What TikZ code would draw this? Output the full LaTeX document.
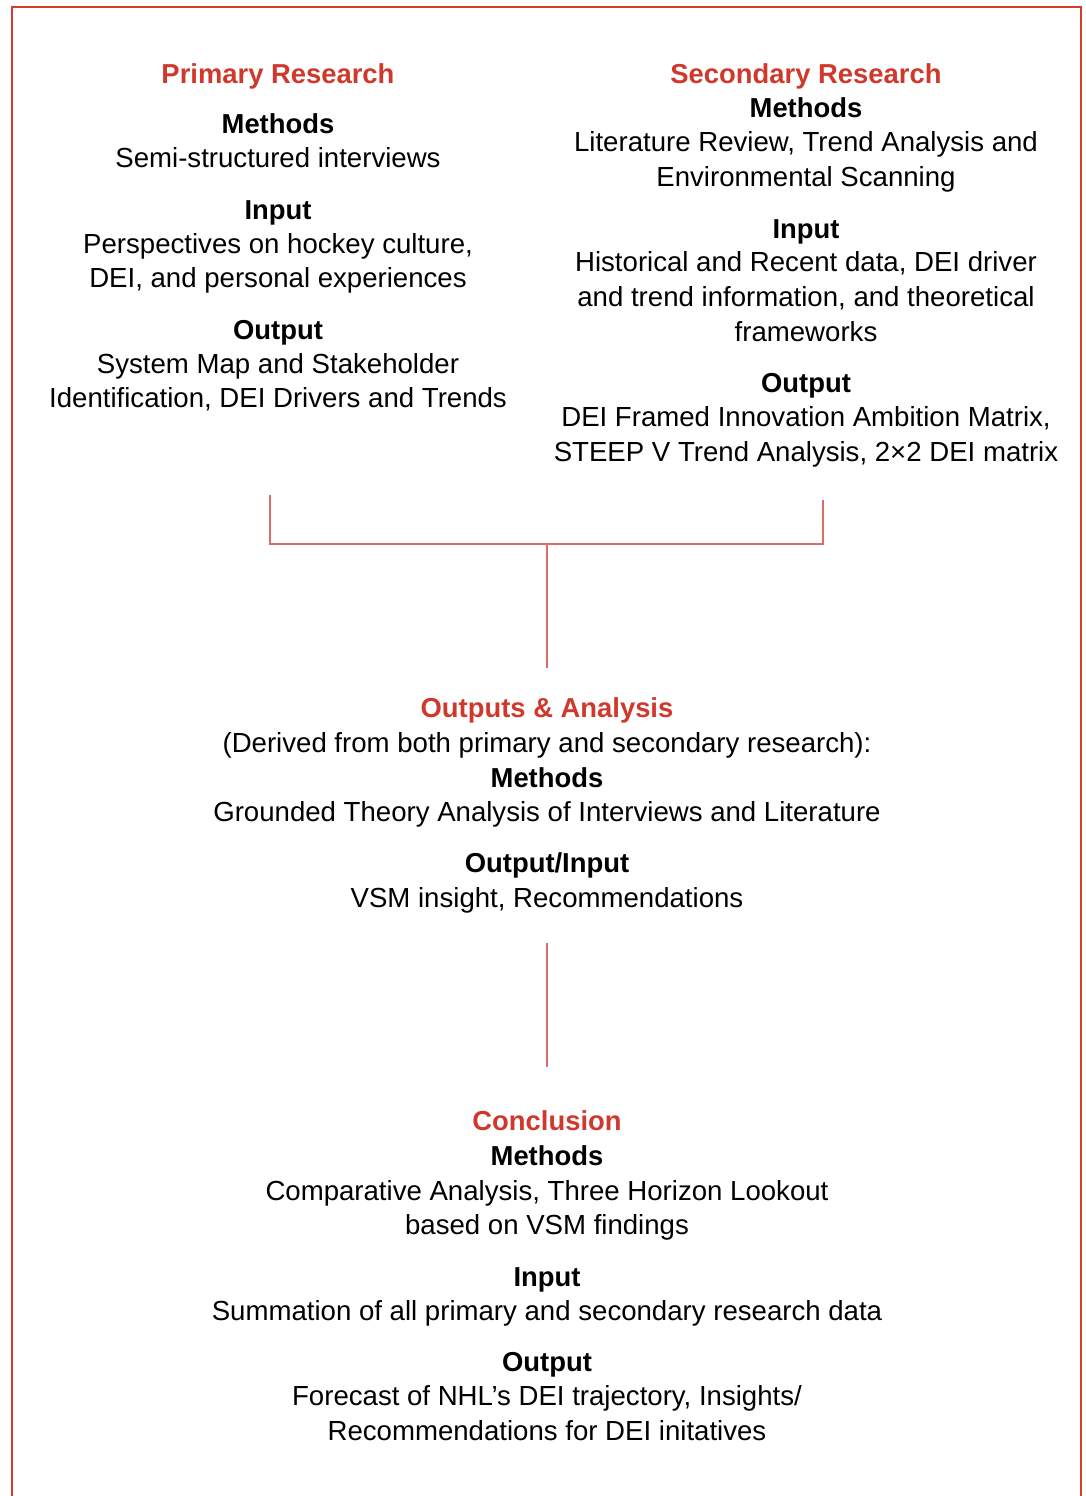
\documentclass[tikz,border=0pt]{standalone}
\usepackage{fontspec}
\setmainfont{Liberation Sans}
\definecolor{hdred}{RGB}{208,56,44}
\definecolor{lnred}{RGB}{220,108,102}
\definecolor{bdred}{RGB}{214,60,50}
\begin{document}
\begin{tikzpicture}[x=0.5pt,y=-0.5pt,
  txt/.style={anchor=base,inner sep=0pt,font=\fontsize{13.8}{16}\selectfont},
  hd/.style={txt,font=\fontsize{13.7}{16}\selectfont\bfseries},
  ttl/.style={hd,text=hdred},
  conn/.style={draw=lnred,line width=1.1pt}]
\useasboundingbox (0,0) rectangle (1086,1496);
\draw[draw=bdred,line width=1pt] (12,1510) -- (12,7) -- (1081,7) -- (1081,1510);
% Primary
\node[ttl] (pt) at (278,83) {Primary Research};
\node[hd] (pmh) at (278,133) {Methods};
\node[txt] (pm1) at (278,167) {Semi-structured interviews};
\node[hd] (pih) at (278,219) {Input};
\node[txt] (pi1) at (278,253) {Perspectives on hockey culture,};
\node[txt] (pi2) at (278,287) {DEI, and personal experiences};
\node[hd] (poh) at (278,339) {Output};
\node[txt] (po1) at (278,373) {System Map and Stakeholder};
\node[txt] (po2) at (278,407) {Identification, DEI Drivers and Trends};
% Secondary
\node[ttl] (st) at (806,83) {Secondary Research};
\node[hd] (smh) at (806,117) {Methods};
\node[txt] (sm1) at (806,151) {Literature Review, Trend Analysis and};
\node[txt] (sm2) at (806,186) {Environmental Scanning};
\node[hd] (sih) at (806,238) {Input};
\node[txt] (si1) at (806,271) {Historical and Recent data, DEI driver};
\node[txt] (si2) at (806,306) {and trend information, and theoretical};
\node[txt] (si3) at (806,341) {frameworks};
\node[hd] (soh) at (806,392) {Output};
\node[txt] (so1) at (806,426) {DEI Framed Innovation Ambition Matrix,};
\node[txt] (so2) at (806,461) {STEEP V Trend Analysis, 2×2 DEI matrix};
% Outputs & Analysis
\node[ttl] (mt) at (547,717) {Outputs \& Analysis};
\node[txt] (md) at (547,752) {(Derived from both primary and secondary research):};
\node[hd] (mmh) at (547,787) {Methods};
\node[txt] (mm1) at (547,821) {Grounded Theory Analysis of Interviews and Literature};
\node[hd] (moh) at (547,872) {Output/Input};
\node[txt] (mo1) at (547,907) {VSM insight, Recommendations};
% Conclusion
\node[ttl] (ct) at (547,1130) {Conclusion};
\node[hd] (cmh) at (547,1165) {Methods};
\node[txt] (cm1) at (547,1200) {Comparative Analysis, Three Horizon Lookout};
\node[txt] (cm2) at (547,1234) {based on VSM findings};
\node[hd] (cih) at (547,1286) {Input};
\node[txt] (ci1) at (547,1320) {Summation of all primary and secondary research data};
\node[hd] (coh) at (547,1371) {Output};
\node[txt] (co1) at (547,1405) {Forecast of NHL’s DEI trajectory, Insights/};
\node[txt] (co2) at (547,1440) {Recommendations for DEI initatives};
% connectors
\coordinate (lt) at (270,495);
\coordinate (rt) at (823,500);
\coordinate (lb) at (270,544);
\coordinate (rb) at (823,544);
\coordinate (mj) at (547,544);
\coordinate (me) at (547,668);
\coordinate (m2a) at (547,943);
\coordinate (m2b) at (547,1067);
\draw[conn] (lt) -- (lb) -- (rb) -- (rt);
\draw[conn] (mj) -- (me);
\draw[conn] (m2a) -- (m2b);
\end{tikzpicture}
\end{document}
